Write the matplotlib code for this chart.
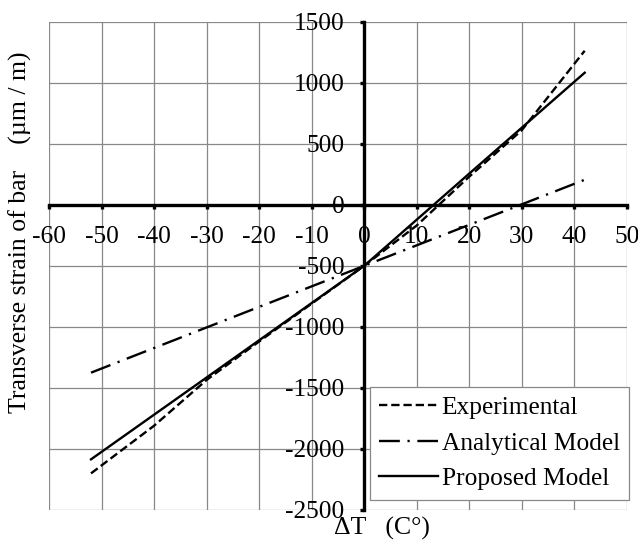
import matplotlib.pyplot as plt

plt.rcParams['font.family'] = ['Liberation Serif', 'DejaVu Serif']
plt.rcParams['axes.unicode_minus'] = False
plt.rcParams['lines.scale_dashes'] = False

# temperature change (C°) and transverse strain (µm/m)
temp_exp = [-52, -40, -30, -20, -10, 0, 10, 20, 30, 42]
strain_exp = [-2200, -1810, -1435, -1120, -810, -500, -170, 230, 610, 1262]

temp_analytical = [-52, 0, 42]
strain_analytical = [-1375, -500, 205]

temp_proposed = [-52, -30, 0, 20, 42]
strain_proposed = [-2085, -1415, -500, 255, 1082]

x_ticks = list(range(-60, 51, 10))
y_ticks = list(range(-2500, 1501, 500))

fig = plt.figure(figsize=(6.38, 5.44), dpi=100)
ax = fig.add_axes([49 / 638, 34 / 544, 577.7 / 638, 488.3 / 544])

ax.plot(temp_exp, strain_exp, color='black', lw=1.7, dashes=(6, 2.8),
        label='Experimental', zorder=3)
ax.plot(temp_analytical, strain_analytical, color='black', lw=1.7,
        dashes=(15, 5.5, 1.6, 5.5), label='Analytical Model', zorder=3)
ax.plot(temp_proposed, strain_proposed, color='black', lw=1.7,
        label='Proposed Model', zorder=3)

ax.set_xlim(-60, 50)
ax.set_ylim(-2500, 1500)
ax.set_xticks(x_ticks)
ax.set_yticks(y_ticks)
ax.set_xticklabels([str(v) for v in x_ticks])
ax.set_yticklabels([str(v) for v in y_ticks])
ax.grid(True, color='#888888', lw=0.9, zorder=0)
ax.set_axisbelow(True)

for side in ('top', 'right'):
    ax.spines[side].set_visible(False)
for side in ('left', 'bottom'):
    ax.spines[side].set_position(('data', 0))
    ax.spines[side].set_linewidth(2.4)
    ax.spines[side].set_zorder(2.5)

ax.tick_params(axis='both', direction='out', length=3, width=2.4,
               labelsize=18.3)
ax.tick_params(axis='x', pad=12)
ax.tick_params(axis='y', pad=11)

fig.text(20 / 638, 1 - 232 / 544, 'Transverse strain of bar    (µm / m)',
         rotation=90, ha='center', va='center', fontsize=18.5)
fig.text(382 / 638, 1 - 528 / 544, 'ΔT   (C°)', ha='center', va='center',
         fontsize=18.5)

leg = ax.legend(loc='upper left', bbox_to_anchor=(369.7 / 638, 1 - 386.7 / 544),
                bbox_transform=fig.transFigure, fontsize=18.3, frameon=True,
                fancybox=False, framealpha=1, edgecolor='#888888',
                handlelength=2.3, handletextpad=0.15, borderpad=0.38,
                labelspacing=0.5, borderaxespad=0)
leg.get_frame().set_linewidth(0.9)
leg.set_zorder(5)

fig.savefig('out.png', dpi=100)
